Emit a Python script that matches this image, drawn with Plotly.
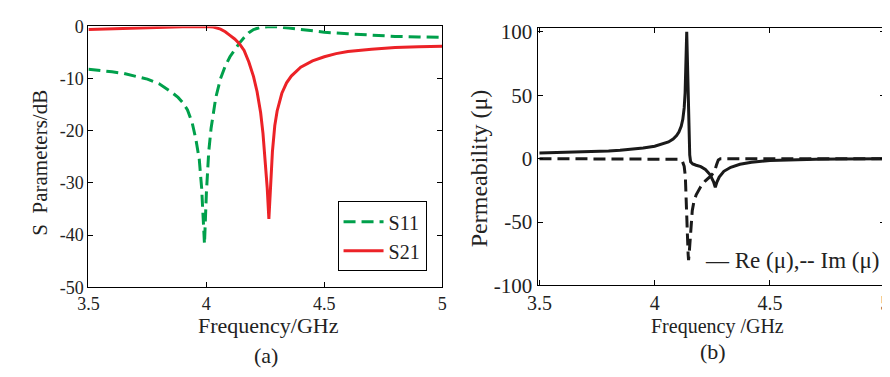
import plotly.graph_objects as go

# ---------------- data: panel (a) S parameters ----------------
freq_s11 = [3.5, 3.55, 3.6, 3.65, 3.7, 3.75, 3.8, 3.85, 3.88, 3.9, 3.92, 3.94, 3.955, 3.97,
            3.98, 3.992, 4.0, 4.01, 4.02, 4.03, 4.04, 4.06, 4.08, 4.1, 4.12, 4.14, 4.16,
            4.18, 4.2, 4.23, 4.27, 4.3, 4.35, 4.4, 4.45, 4.5, 4.6, 4.7, 4.8, 4.9, 5.0]
s11_db = [-8.2, -8.4, -8.7, -9.0, -9.5, -10.1, -11.0, -12.5, -13.6, -14.6, -16.0, -18.5,
          -21.5, -25.5, -31.0, -41.7, -32.0, -24.0, -19.5, -16.0, -13.6, -10.0, -7.6, -5.8,
          -4.4, -3.2, -2.1, -1.2, -0.6, -0.15, 0.0, -0.05, -0.3, -0.6, -0.85, -1.1, -1.4,
          -1.7, -1.9, -2.0, -2.1]

freq_s21 = [3.5, 3.6, 3.7, 3.8, 3.9, 4.0, 4.03, 4.06, 4.08, 4.1, 4.12, 4.14, 4.16, 4.18,
            4.2, 4.215, 4.23, 4.24, 4.25, 4.258, 4.265, 4.272, 4.28, 4.29, 4.3, 4.32, 4.34,
            4.36, 4.4, 4.45, 4.5, 4.55, 4.6, 4.7, 4.8, 4.9, 5.0]
s21_db = [-0.6, -0.45, -0.3, -0.15, -0.05, 0.0, -0.1, -0.5, -1.0, -1.7, -2.4, -3.3, -4.6,
          -6.8, -9.6, -12.5, -16.5, -20.5, -26.0, -31.0, -36.9, -31.0, -24.0, -19.0, -16.2,
          -12.8, -10.8, -9.5, -7.8, -6.6, -5.8, -5.2, -4.8, -4.35, -4.05, -3.9, -3.8]

# ---------------- data: panel (b) permeability ----------------
freq_re = [3.5, 3.6, 3.7, 3.8, 3.85, 3.9, 3.95, 4.0, 4.03, 4.06, 4.08, 4.095, 4.105, 4.115,
           4.122, 4.128, 4.132, 4.135, 4.137, 4.139, 4.141, 4.144, 4.148, 4.152, 4.156,
           4.165, 4.18, 4.2, 4.22, 4.24, 4.255, 4.263, 4.27, 4.28, 4.3, 4.33, 4.37, 4.42,
           4.5, 4.6, 4.7, 4.8, 5.0]
re_mu = [4.4, 4.8, 5.3, 6.1, 6.7, 7.5, 8.4, 9.8, 11.2, 13.2, 15.5, 18.2, 21.0, 25.5, 31.0,
         40.0, 52.0, 68.0, 85.0, 100.0, 85.0, 55.0, 25.0, 3.0, -2.5, -4.2, -5.2, -6.3, -8.5,
         -12.5, -18.0, -22.5, -18.5, -14.5, -10.0, -6.8, -4.4, -2.8, -1.5, -0.8, -0.4,
         -0.2, 0.0]

freq_im = [3.5, 4.05, 4.1, 4.12, 4.128, 4.133, 4.137, 4.141, 4.145, 4.147, 4.15, 4.154,
           4.158, 4.163, 4.17, 4.18, 4.2, 4.22, 4.245, 4.26, 4.268, 4.276, 4.285, 5.0]
im_mu = [0.0, 0.0, -0.5, -2.0, -6.0, -14.0, -30.0, -55.0, -75.0, -80.0, -74.0, -62.0, -50.0,
         -41.0, -34.0, -28.5, -22.0, -17.5, -13.4, -10.0, -5.0, -1.0, 0.0, 0.0]

x_ticks = [3.5, 4, 4.5, 5]
x_tick_text = ["3.5", "4", "4.5", "5"]
ya_ticks = [0, -10, -20, -30, -40, -50]
ya_tick_text = ["0", "-10", "-20", "-30", "-40", "-50"]
yb_ticks = [100, 50, 0, -50, -100]
yb_tick_text = ["100", "50", "0", "-50", "-100"]

SERIF = "Liberation Serif, Times New Roman, serif"
GREEN = "#00A04B"
RED = "#EC2227"
INK = "#222"

W, H = 890, 377


def px_x(p):
    return p / W


def px_y(p):
    return 1 - p / H


fig = go.Figure()

fig.add_trace(go.Scatter(x=freq_s11, y=s11_db, mode="lines", name="S11",
                         line=dict(color=GREEN, width=3, dash="12px,6px"),
                         xaxis="x", yaxis="y"))
fig.add_trace(go.Scatter(x=freq_s21, y=s21_db, mode="lines", name="S21",
                         line=dict(color=RED, width=3),
                         xaxis="x", yaxis="y"))
fig.add_trace(go.Scatter(x=freq_im, y=im_mu, mode="lines", name="Im(μ)",
                         line=dict(color="#1a1a1a", width=3, dash="12px,6px"),
                         xaxis="x2", yaxis="y2", showlegend=False))
fig.add_trace(go.Scatter(x=freq_re, y=re_mu, mode="lines", name="Re(μ)",
                         line=dict(color="#1a1a1a", width=3),
                         xaxis="x2", yaxis="y2", showlegend=False))

axis_common = dict(showline=True, linecolor="black", linewidth=1, mirror="ticks",
                   ticks="inside", ticklen=5, tickcolor="black", showgrid=False,
                   zeroline=False, ticklabeloverflow="allow")

fig.update_layout(
    width=W, height=H,
    margin=dict(l=0, r=0, t=0, b=0),
    paper_bgcolor="white", plot_bgcolor="white",
    font=dict(family=SERIF, color=INK),
    xaxis=dict(domain=[px_x(70.7), px_x(431)], range=[3.5, 5.0], anchor="y",
               tickvals=x_ticks, ticktext=x_tick_text,
               tickfont=dict(size=18, family=SERIF, color=INK), **axis_common),
    yaxis=dict(domain=[px_y(286), px_y(9)], range=[-50, 0], anchor="x",
               tickvals=ya_ticks, ticktext=ya_tick_text,
               tickfont=dict(size=18, family=SERIF, color=INK), **axis_common),
    xaxis2=dict(domain=[px_x(528), px_x(882)], range=[3.4915, 5.0], anchor="y2",
                tickvals=x_ticks, ticktext=x_tick_text,
                tickfont=dict(size=20, family=SERIF, color=INK), **axis_common),
    yaxis2=dict(domain=[px_y(284), px_y(10.7)], range=[-100, 103], anchor="x2",
                tickvals=yb_ticks, ticktext=yb_tick_text,
                tickfont=dict(size=21, family=SERIF, color=INK), **axis_common),
    legend=dict(x=px_x(415), y=px_y(269), xanchor="right", yanchor="bottom",
                bgcolor="white", bordercolor="black", borderwidth=1,
                font=dict(size=20, family=SERIF, color=INK),
                tracegroupgap=0, itemwidth=40),
    showlegend=True,
)

annotations = [
    dict(text="Frequency/GHz", x=px_x(254), y=px_y(327), font=dict(size=22)),
    dict(text="(a)", x=px_x(252), y=px_y(358), font=dict(size=22)),
    dict(text="S  Parameters/dB", x=px_x(21), y=px_y(154), textangle=-90,
         font=dict(size=21)),
    dict(text="Frequency /GHz", x=px_x(711), y=px_y(328), font=dict(size=20)),
    dict(text="(b)", x=px_x(707), y=px_y(354), font=dict(size=22)),
    dict(text="Permeability (μ)", x=px_x(468), y=px_y(160), textangle=-90,
         font=dict(size=24)),
    dict(text="— Re (μ),-- Im (μ)", x=px_x(878), y=px_y(258), xanchor="right",
         font=dict(size=23)),
]
for a in annotations:
    a.setdefault("xanchor", "center")
    a.update(xref="paper", yref="paper", yanchor="middle", showarrow=False)
    a["font"].update(family=SERIF, color=INK)
fig.update_layout(annotations=annotations)

fig.write_html("out.html")
